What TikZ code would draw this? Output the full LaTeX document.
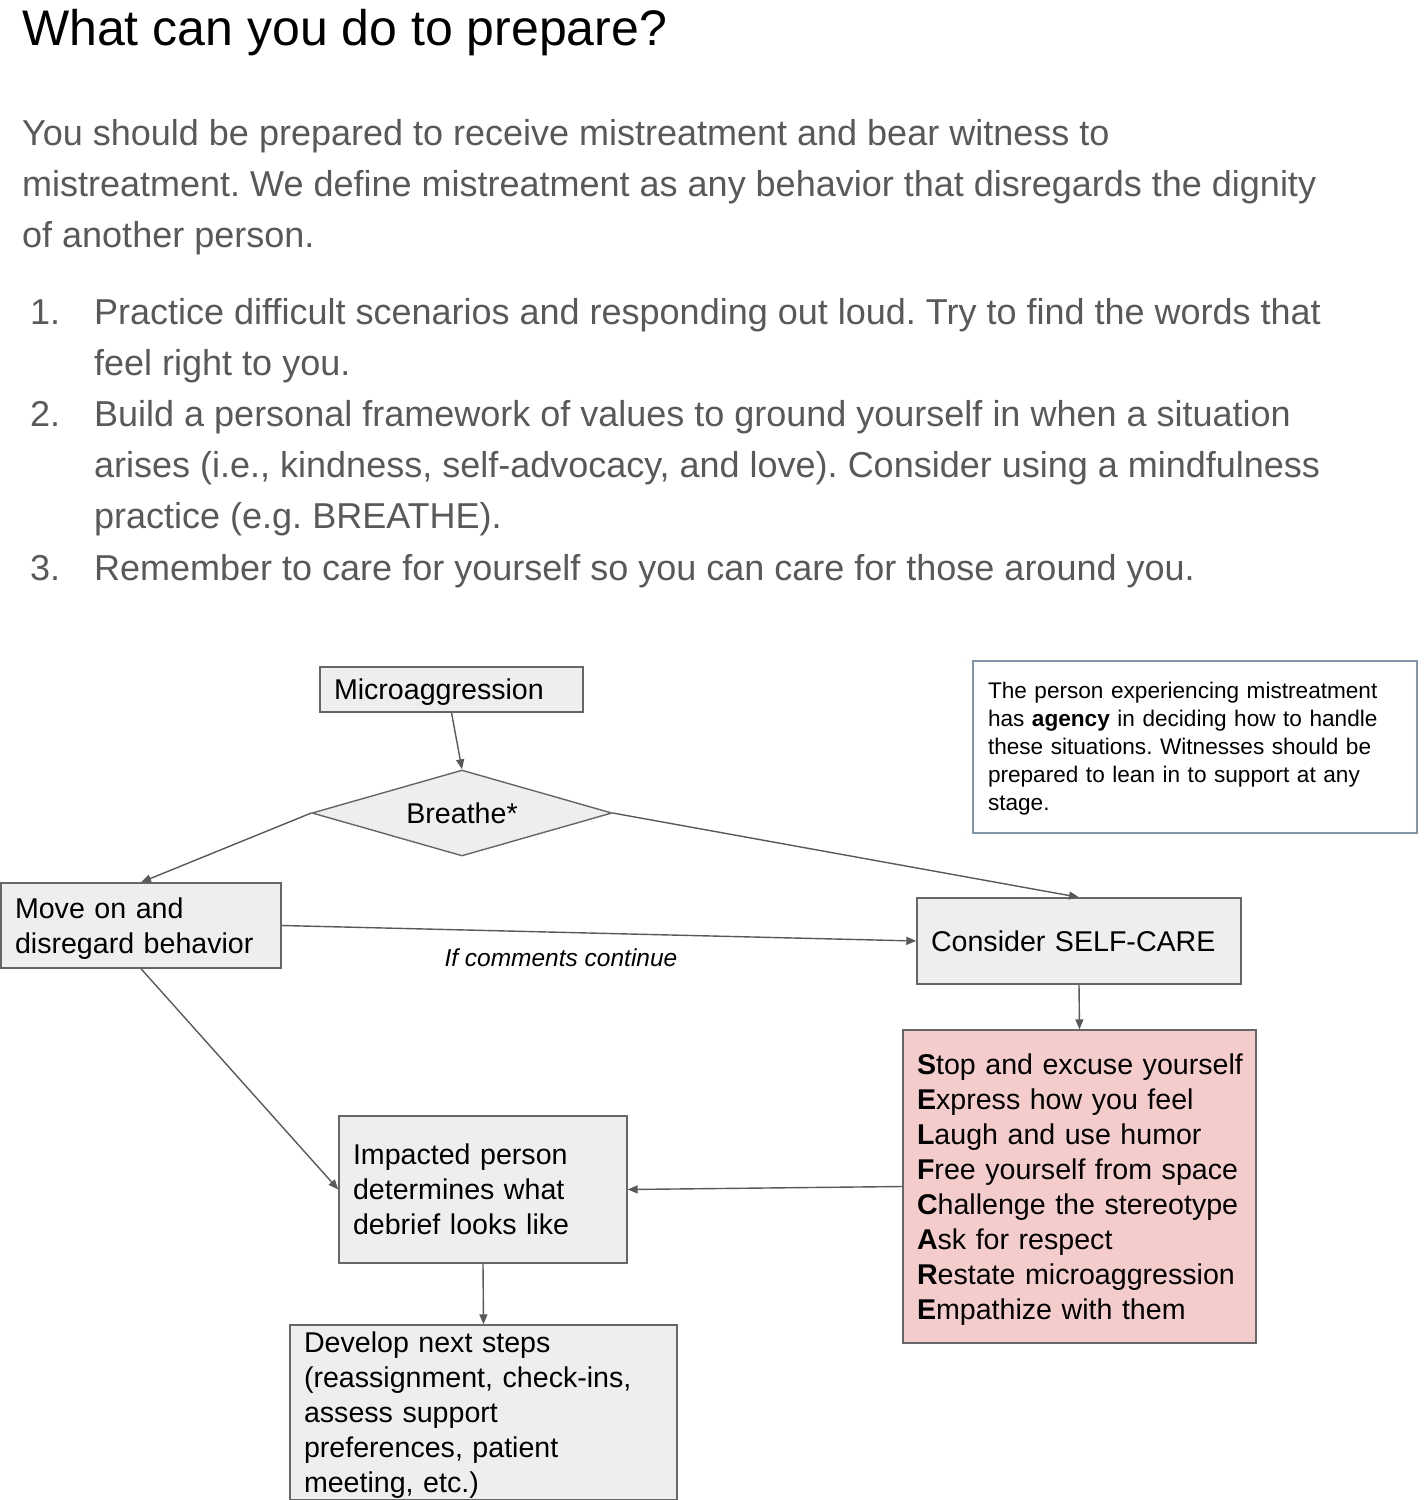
\documentclass[tikz,border=0pt]{standalone}
\usepackage{fontspec}
\setmainfont{Liberation Sans}
\frenchspacing
\usetikzlibrary{shapes.geometric,arrows.meta}
\definecolor{ink}{HTML}{595959}
\definecolor{edge}{HTML}{666666}
\definecolor{boxgray}{HTML}{EEEEEE}
\definecolor{boxred}{HTML}{F4CCCC}
\definecolor{noteedge}{HTML}{8396A8}
\newcommand{\flowfont}{\fontsize{28.6}{35}\selectfont}
\newcommand{\notefont}{\fontsize{22.6}{28}\selectfont}
\newcommand{\bodyfont}{\fontsize{36}{51}\selectfont}
\newcommand{\flowstrut}{\rule[-7.5pt]{0pt}{35pt}}
\newcommand{\notestrut}{\rule[-6.2pt]{0pt}{28pt}}
\tikzset{
  boxbase/.style={draw=edge, fill=boxgray, line width=1.4pt, inner xsep=14pt, inner ysep=0pt, align=left},
  box/.style={boxbase, font=\flowfont, execute at begin node=\flowstrut, execute at end node=\flowstrut},
  notebox/.style={boxbase, draw=noteedge, fill=white, font=\notefont, execute at begin node=\notestrut, execute at end node=\notestrut},
  conn/.style={draw=ink, line width=1.4pt, -{Triangle[length=10pt,width=8pt]}},
  bodyline/.style={anchor=base west, inner sep=0pt, text=ink, font=\bodyfont},
}
\begin{document}
\begin{tikzpicture}[x=1pt,y=-1pt]
\useasboundingbox (0,0) rectangle (1424,1500);
% heading and text
\node[anchor=base west, inner sep=0pt, font=\fontsize{50}{60}\selectfont] (title) at (22,45) {What can you do to prepare?};
\foreach \row/\txt in {0/{You should be prepared to receive mistreatment and bear witness to},
    1/{mistreatment. We define mistreatment as any behavior that disregards the dignity},
    2/{of another person.}}
  \node[bodyline] (intro\row) at (22,145+51*\row) {\txt};
\foreach \row/\txt in {0/{Practice difficult scenarios and responding out loud. Try to find the words that},
    1/{feel right to you.},
    2/{Build a personal framework of values to ground yourself in when a situation},
    3/{arises (i.e., kindness, self-advocacy, and love). Consider using a mindfulness},
    4/{practice (e.g. BREATHE).},
    5/{Remember to care for yourself so you can care for those around you.}}
  \node[bodyline] (item\row) at (94,324+51.2*\row) {\txt};
\foreach \row/\num in {0/1,2/2,5/3}
  \node[bodyline] (num\num) at (30,324+51.2*\row) {\num.};
% flowchart
\node[box, text width=235pt, minimum height=45pt] (micro) at (451.5,689.5) {Microaggression};
\node[draw=edge, fill=boxgray, line width=1.4pt, diamond, aspect=3.5, inner sep=0pt, minimum width=300pt, minimum height=86pt, font=\flowfont] (breathe) at (462,813) {Breathe*};
\node[box, text width=252pt, minimum height=85pt] (moveon) at (141,925.5) {Move on and\\disregard behavior};
\node[box, text width=296pt, minimum height=86pt] (selfcare) at (1079,941) {Consider SELF-CARE};
\node[box, fill=boxred, text width=325pt, minimum height=313pt] (selflist) at (1079.5,1186.5)
  {\mbox{\textbf{S}top and excuse yourself}\\\textbf{E}xpress how you feel\\\textbf{L}augh and use humor\\\textbf{F}ree yourself from space\\
   \textbf{C}hallenge the stereotype\\\textbf{A}sk for respect\\\textbf{R}estate microaggression\\\textbf{E}mpathize with them};
\node[box, text width=260pt, minimum height=147pt] (impacted) at (483,1189.5) {Impacted person\\determines what\\debrief looks like};
\node[box, text width=359pt, minimum height=171pt] (nextsteps) at (483.5,1412.5)
  {Develop next steps\\(reassignment, check-ins,\\assess support\\preferences, patient\\meeting, etc.)};
\node[notebox, inner xsep=15pt, text width=414pt, minimum height=172pt] (agency) at (1195,747)
  {The person experiencing mistreatment\\has \textbf{agency} in deciding how to handle\\these situations. Witnesses should be\\prepared to lean in to support at any\\stage.};
\draw[conn] (micro.south) -- (breathe.north);
\draw[conn] (breathe.west) -- (moveon.north);
\draw[conn] (breathe.east) -- (selfcare.north);
\draw[conn] (moveon.east) -- node[pos=0.44, below=12pt, font=\fontsize{24.5}{30}\selectfont\itshape, text=black] (cont) {If comments continue} (selfcare.west);
\draw[conn] (selfcare.south) -- (selflist.north);
\draw[conn] (selflist.west) -- (impacted.east);
\draw[conn] (moveon.south) -- (impacted.west);
\draw[conn] (impacted.south) -- (nextsteps.north);
\end{tikzpicture}
\end{document}
